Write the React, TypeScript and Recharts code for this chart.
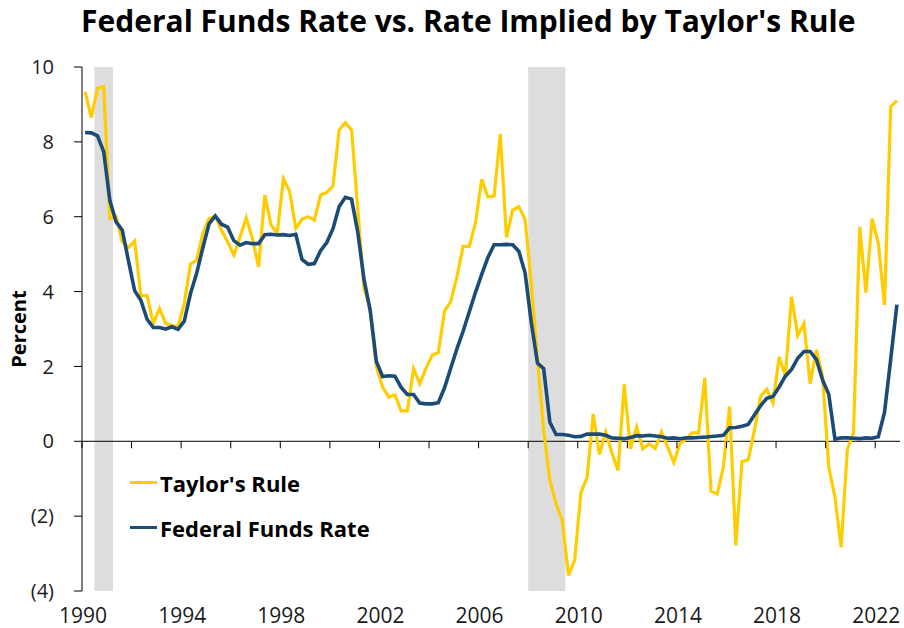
// Federal Funds Rate vs. Taylor's Rule, quarterly 1990-2022, Rezessionen grau hinterlegt.

import { LineChart, Line, XAxis, YAxis, ReferenceArea, ReferenceLine, Legend } from "recharts"

const quarters: string[] = []
for (let y = 1990; y <= 2022; y++) for (let q = 1; q <= 4; q++) quarters.push(`${y}Q${q}`)

const taylorRule = [
  9.34, 8.65, 9.43, 9.47, 5.95, 6.0, 5.33, 5.18, 5.35, 3.89, 3.89, 3.15, 3.55, 3.15, 3.1, 3.06,
  3.68, 4.73, 4.84, 5.55, 5.95, 6.02, 5.64, 5.33, 4.97, 5.46, 5.97, 5.42, 4.66, 6.58, 5.78, 5.55,
  7.02, 6.68, 5.69, 5.93, 6.0, 5.91, 6.58, 6.65, 6.82, 8.32, 8.51, 8.32, 6.2, 4.1, 3.55, 1.99,
  1.45, 1.18, 1.24, 0.81, 0.81, 1.94, 1.54, 1.94, 2.3, 2.37, 3.48, 3.73, 4.39, 5.21, 5.21, 5.84,
  7.0, 6.53, 6.55, 8.21, 5.45, 6.18, 6.27, 5.93, 4.2, 2.2, 0.29, -1.04, -1.67, -2.11, -3.58, -3.18,
  -1.38, -0.97, 0.73, -0.35, 0.25, -0.3, -0.78, 1.52, -0.2, 0.38, -0.2, -0.07, -0.19, 0.25, -0.15, -0.57,
  -0.06, 0.06, 0.23, 0.22, 1.7, -1.33, -1.41, -0.69, 0.93, -2.78, -0.54, -0.5, 0.29, 1.2, 1.39, 1.03,
  2.25, 1.76, 3.86, 2.83, 3.15, 1.54, 2.44, 1.75, -0.69, -1.49, -2.83, -0.22, 0.22, 5.73, 3.97, 5.95,
  5.29, 3.64, 8.94, 9.1,
]

const fedFundsRate = [
  8.25, 8.24, 8.16, 7.74, 6.43, 5.86, 5.64, 4.82, 4.02, 3.77, 3.26, 3.04, 3.04, 3.0, 3.06, 2.99,
  3.21, 3.94, 4.49, 5.17, 5.81, 6.02, 5.8, 5.72, 5.36, 5.24, 5.31, 5.28, 5.28, 5.52, 5.53, 5.51,
  5.52, 5.5, 5.53, 4.86, 4.73, 4.75, 5.09, 5.31, 5.68, 6.27, 6.52, 6.47, 5.59, 4.33, 3.5, 2.13,
  1.73, 1.75, 1.74, 1.44, 1.25, 1.25, 1.02, 1.0, 1.0, 1.03, 1.43, 1.95, 2.47, 2.94, 3.46, 3.98,
  4.46, 4.91, 5.25, 5.25, 5.26, 5.25, 5.07, 4.5, 3.18, 2.09, 1.94, 0.51, 0.18, 0.18, 0.16, 0.12,
  0.13, 0.19, 0.19, 0.19, 0.16, 0.09, 0.08, 0.07, 0.1, 0.15, 0.14, 0.16, 0.14, 0.12, 0.08, 0.09,
  0.07, 0.09, 0.09, 0.1, 0.11, 0.13, 0.14, 0.16, 0.36, 0.37, 0.4, 0.45, 0.7, 0.95, 1.15, 1.2,
  1.45, 1.74, 1.92, 2.22, 2.4, 2.4, 2.19, 1.64, 1.26, 0.06, 0.09, 0.09, 0.08, 0.07, 0.09, 0.08,
  0.12, 0.77, 2.19, 3.65,
]

const seriesNames = ["Taylor's Rule", "Federal Funds Rate"]
const yearLabels = ["1990", "1994", "1998", "2002", "2006", "2010", "2014", "2018", "2022"]
const yTicks = [-4, -2, 0, 2, 4, 6, 8, 10]
const recessions = [
  ["1990Q3", "1991Q1"],
  ["2008Q1", "2009Q2"],
]

const data = quarters.map((q, i) => ({ i, q, taylor: taylorRule[i], ffr: fedFundsRate[i] }))

// Tickmarken alle 8 Quartale, Beschriftung alle 16
const xTicks = Array.from({ length: 17 }, (_, k) => k * 8 - 0.5)

const W = 904
const H = 628
const TOP = 67
const BOTTOM = 37
const PLOT_H = H - TOP - BOTTOM
const Y_MIN = -4
const Y_MAX = 10
const ZERO_Y = TOP + (PLOT_H * Y_MAX) / (Y_MAX - Y_MIN)
const FONT = "'Open Sans', 'Noto Sans', sans-serif"
const YELLOW = "#FFCC00"
const BLUE = "#1B4B76"

function XTick(props: any) {
  const { x, payload } = props
  const k = Math.round((payload.value + 0.5) / 8)
  const label = k % 2 === 0 ? yearLabels[k / 2] : null
  return (
    <g>
      <line x1={x} x2={x} y1={ZERO_Y} y2={ZERO_Y + 7} stroke="#000" strokeWidth={1} />
      {label && (
        <text x={x + 1} y={H - 5} textAnchor="middle" fontSize={21} fontFamily={FONT} fill="#1a1a1a">
          {label}
        </text>
      )}
    </g>
  )
}

function LegendBox({ payload }: any) {
  const items = [...(payload ?? [])].sort(
    (a: any, b: any) => seriesNames.indexOf(a.value) - seriesNames.indexOf(b.value)
  )
  return (
    <div style={{ fontFamily: FONT }}>
      {items.map((p: any) => (
        <div key={p.value} style={{ display: "flex", alignItems: "center", height: 45 }}>
          <span style={{ display: "inline-block", width: 27, height: 3.5, background: p.color, marginRight: 3 }} />
          <span style={{ fontSize: 22, fontWeight: 700, color: "#000" }}>{p.value}</span>
        </div>
      ))}
    </div>
  )
}

export default function App() {
  return (
    <div style={{ position: "absolute", left: 0, top: 0, width: W, height: H, background: "#fff" }}>
      <div
        style={{
          position: "absolute",
          left: 81,
          top: 3,
          whiteSpace: "nowrap",
          fontFamily: FONT,
          fontWeight: 700,
          fontSize: 30,
          lineHeight: "36px",
          color: "#000",
        }}
      >
        Federal Funds Rate vs. Rate Implied by Taylor's Rule
      </div>
      <LineChart width={W} height={H} data={data} margin={{ top: TOP, right: 4, bottom: 7, left: 0 }}>
        {recessions.map(([a, b]) => (
          <ReferenceArea
            key={a}
            x1={quarters.indexOf(a) - 0.5}
            x2={quarters.indexOf(b) + 0.5}
            y1={Y_MIN}
            y2={Y_MAX}
            fill="#DDDDDD"
            fillOpacity={1}
            stroke="none"
          />
        ))}
        <ReferenceLine y={0} stroke="#000" strokeWidth={1} />
        <XAxis
          dataKey="i"
          type="number"
          domain={[-0.5, quarters.length - 0.5]}
          ticks={xTicks}
          interval={0}
          axisLine={false}
          tickLine={false}
          tick={<XTick />}
          height={30}
        />
        <YAxis
          type="number"
          domain={[Y_MIN, Y_MAX]}
          ticks={yTicks}
          interval={0}
          width={82}
          axisLine={{ stroke: "#000", strokeWidth: 1 }}
          tickLine={{ stroke: "#000", strokeWidth: 1 }}
          tickSize={8}
          tickMargin={20}
          tick={{ fontSize: 20, fontFamily: FONT, fill: "#1a1a1a" }}
          tickFormatter={(v: number) => (v < 0 ? `(${-v})` : `${v}`)}
          label={(p: any) => {
            const vb = p.viewBox ?? { y: TOP, height: PLOT_H }
            const cy = vb.y + vb.height / 2
            return (
              <text
                x={18}
                y={cy}
                transform={`rotate(-90 18 ${cy})`}
                textAnchor="middle"
                dominantBaseline="central"
                fontSize={20}
                fontWeight={700}
                fontFamily={FONT}
                fill="#000"
              >
                Percent
              </text>
            )
          }}
        />
        <Legend
          layout="vertical"
          verticalAlign="middle"
          align="center"
          content={<LegendBox />}
          wrapperStyle={{ left: 130, top: 460, width: 300 }}
        />
        <Line
          type="linear"
          dataKey="taylor"
          name={seriesNames[0]}
          stroke={YELLOW}
          strokeWidth={3.2}
          dot={false}
          activeDot={false}
          isAnimationActive={false}
        />
        <Line
          type="linear"
          dataKey="ffr"
          name={seriesNames[1]}
          stroke={BLUE}
          strokeWidth={3.6}
          dot={false}
          activeDot={false}
          isAnimationActive={false}
        />
      </LineChart>
    </div>
  )
}
